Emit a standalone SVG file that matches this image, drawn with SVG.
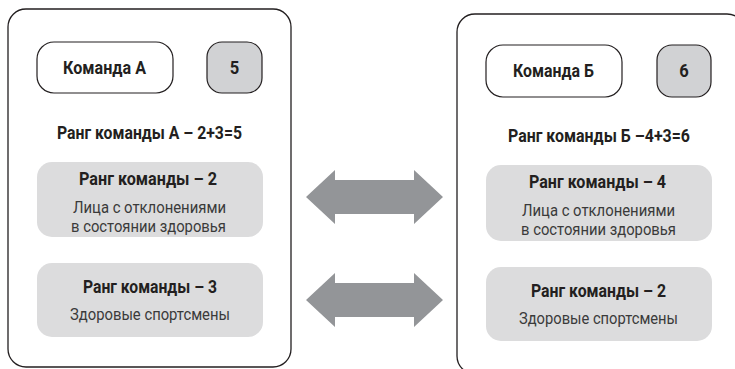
<svg xmlns="http://www.w3.org/2000/svg" width="735" height="369" viewBox="0 0 735 369">
<style>
.panel{fill:#ffffff;stroke:#231f20;stroke-width:1.3}
.name{fill:#ffffff;stroke:#231f20;stroke-width:1.2}
.score{fill:#d1d2d4;stroke:#231f20;stroke-width:1.2}
.group{fill:#dcdcdd;stroke:none}
.arrow{fill:#939598}
text{font-family:Roboto,"Liberation Sans",sans-serif;fill:#231f20;text-anchor:middle}
.b{font-weight:bold;font-size:19px}
.r{font-size:17px;fill:#3a3a3a}
</style>
<g id="panelA">
<rect class="panel" x="8" y="9" width="283" height="358" rx="18"/>
</g>
<g id="nameA"><rect class="name" x="37" y="42" width="136" height="51" rx="17"/><text class="b" x="104.5" y="74" textLength="83" lengthAdjust="spacingAndGlyphs">Команда А</text></g>
<g id="scoreA"><rect class="score" x="207" y="42" width="55" height="51" rx="15"/><text class="b" x="234.5" y="74" textLength="9.5" lengthAdjust="spacingAndGlyphs">5</text></g>
<g id="rankA"><text class="b" x="149.5" y="139" textLength="185" lengthAdjust="spacingAndGlyphs">Ранг команды А – 2+3=5</text></g>
<g id="groupA1"><rect class="group" x="37" y="162" width="226" height="75" rx="15"/>
<text class="b" x="148" y="184.5" textLength="138" lengthAdjust="spacingAndGlyphs">Ранг команды – 2</text>
<text class="r" x="149.5" y="213" textLength="153" lengthAdjust="spacingAndGlyphs">Лица с отклонениями</text>
<text class="r" x="148.5" y="231.5" textLength="155" lengthAdjust="spacingAndGlyphs">в состоянии здоровья</text></g>
<g id="groupA2"><rect class="group" x="37" y="263" width="226" height="74" rx="15"/>
<text class="b" x="150" y="293" textLength="134" lengthAdjust="spacingAndGlyphs">Ранг команды – 3</text>
<text class="r" x="150" y="320" textLength="160" lengthAdjust="spacingAndGlyphs">Здоровые спортсмены</text></g>
<g id="panelB">
<rect class="panel" x="457" y="14" width="288" height="360" rx="18"/>
</g>
<g id="nameB"><rect class="name" x="486" y="45" width="136" height="52" rx="17"/><text class="b" x="553.5" y="77" textLength="81" lengthAdjust="spacingAndGlyphs">Команда Б</text></g>
<g id="scoreB"><rect class="score" x="657" y="45" width="54" height="52" rx="15"/><text class="b" x="684" y="77" textLength="9.5" lengthAdjust="spacingAndGlyphs">6</text></g>
<g id="rankB"><text class="b" x="599" y="142" textLength="182" lengthAdjust="spacingAndGlyphs">Ранг команды Б –4+3=6</text></g>
<g id="groupB1"><rect class="group" x="486" y="165" width="226" height="76" rx="15"/>
<text class="b" x="597.5" y="187.5" textLength="137" lengthAdjust="spacingAndGlyphs">Ранг команды – 4</text>
<text class="r" x="598.5" y="216" textLength="153" lengthAdjust="spacingAndGlyphs">Лица с отклонениями</text>
<text class="r" x="598.5" y="234.5" textLength="155" lengthAdjust="spacingAndGlyphs">в состоянии здоровья</text></g>
<g id="groupB2"><rect class="group" x="486" y="267" width="226" height="74" rx="15"/>
<text class="b" x="598.5" y="297" textLength="135" lengthAdjust="spacingAndGlyphs">Ранг команды – 2</text>
<text class="r" x="598.5" y="324" textLength="159" lengthAdjust="spacingAndGlyphs">Здоровые спортсмены</text></g>
<g id="connectors">
<polygon class="arrow" points="306,197 335,170 335,180 414,180 414,170 443,197 414,224 414,214 335,214 335,224"/>
<polygon class="arrow" points="306,300 335,273 335,283 414,283 414,273 443,300 414,327 414,317 335,317 335,327"/>
</g>
</svg>
